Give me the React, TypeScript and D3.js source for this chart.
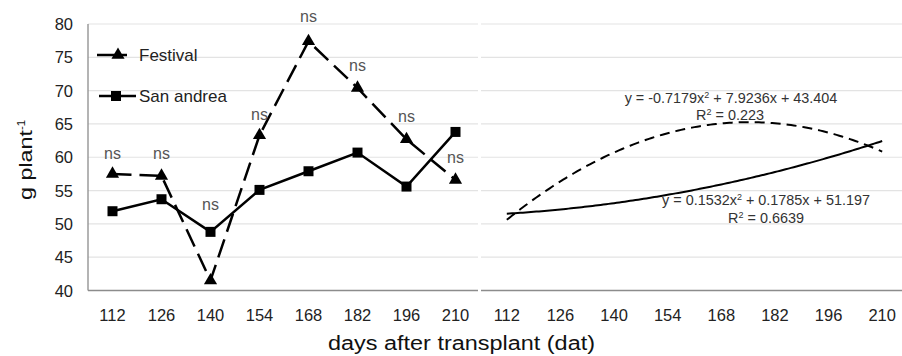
import React, { useEffect, useRef } from "react";
import * as d3 from "d3";

const days = ["112", "126", "140", "154", "168", "182", "196", "210"];
const festival = [57.5, 57.2, 41.5, 63.3, 77.4, 70.4, 62.7, 56.6];
const sanAndrea = [51.9, 53.7, 48.8, 55.1, 57.9, 60.7, 55.6, 63.8];
// where each "ns" label sits, in g plant-1
const nsLabelAt = [59.7, 59.7, 52.1, 65.6, 80.3, 72.9, 65.3, 59.2];
const yTicks = [40, 45, 50, 55, 60, 65, 70, 75, 80];
// polynomial trend coefficients [a, b, c] : a*x^2 + b*x + c
const festivalTrend = [-0.7179, 7.9236, 43.404];
const sanAndreaTrend = [0.1532, 0.1785, 51.197];
const festivalR2 = "0.223";
const sanAndreaR2 = "0.6639";

export default function App() {
  const ref = useRef<SVGSVGElement>(null);

  useEffect(() => {
    const svg = d3.select(ref.current);
    svg.selectAll("*").remove();

    const W = 902;
    const H = 356;
    const left = 88;
    const mid = 479;
    const right = 909;
    const top = 24;
    const bottom = 290.5;
    const font = "Liberation Sans, Arial, sans-serif";

    const y = d3.scaleLinear([40, 80], [bottom, top]);
    const xL = d3.scaleBand(days, [left, mid + 1]);
    const xR = d3.scaleBand(days, [mid + 1, right]);
    const xTrend = d3.scaleLinear([0.5, 8.5], [mid + 1, right]);
    const cx = (i: number) => xL(days[i])! + xL.bandwidth() / 2;

    svg.attr("width", W).attr("height", H);
    svg.append("rect").attr("width", W).attr("height", H).attr("fill", "#fff");

    // grid lines
    const grid = svg.append("g");
    yTicks.slice(1).forEach((t) => {
      grid.append("line").attr("x1", left).attr("x2", mid - 1)
        .attr("y1", y(t)).attr("y2", y(t))
        .attr("stroke", "#e3e3e3").attr("stroke-width", 1.2);
      grid.append("line").attr("x1", mid + 2).attr("x2", W)
        .attr("y1", y(t)).attr("y2", y(t))
        .attr("stroke", "#e3e3e3").attr("stroke-width", 1.2);
    });

    // axes lines
    svg.append("line").attr("x1", left).attr("x2", left)
      .attr("y1", top).attr("y2", bottom)
      .attr("stroke", "#8c8c8c").attr("stroke-width", 1.3);
    svg.append("line").attr("x1", left).attr("x2", mid - 1)
      .attr("y1", bottom).attr("y2", bottom)
      .attr("stroke", "#8c8c8c").attr("stroke-width", 1.5);
    svg.append("line").attr("x1", mid + 2).attr("x2", W)
      .attr("y1", bottom).attr("y2", bottom)
      .attr("stroke", "#8c8c8c").attr("stroke-width", 1.5);

    // y tick labels
    svg.append("g").selectAll("text").data(yTicks).enter().append("text")
      .attr("x", 73).attr("y", (d) => y(d) + 6)
      .attr("text-anchor", "end").attr("font-family", font)
      .attr("font-size", 16.5).attr("fill", "#222")
      .text((d) => d);

    // x tick labels, both panels
    [xL, xR].forEach((sc) => {
      svg.append("g").selectAll("text").data(days).enter().append("text")
        .attr("x", (d) => sc(d)! + sc.bandwidth() / 2)
        .attr("y", 320.5)
        .attr("text-anchor", "middle").attr("font-family", font)
        .attr("font-size", 16.5).attr("fill", "#222")
        .text((d) => d);
    });

    // axis titles
    svg.append("text").attr("x", 328).attr("y", 350)
      .attr("font-family", font)
      .attr("font-size", 19.5).attr("fill", "#111")
      .attr("textLength", 267).attr("lengthAdjust", "spacingAndGlyphs")
      .text("days after transplant (dat)");
    const yt = svg.append("text")
      .attr("transform", "translate(32,200) rotate(-90)")
      .attr("font-family", font)
      .attr("font-size", 17.5).attr("fill", "#111");
    yt.append("tspan")
      .attr("textLength", 70).attr("lengthAdjust", "spacingAndGlyphs")
      .text("g plant");
    yt.append("tspan").attr("dy", -7).attr("font-size", 11.5).text("-1");

    // series lines
    const line = d3.line<number>().x((d, i) => cx(i)).y((d) => y(d));
    svg.append("path").attr("d", line(sanAndrea)!)
      .attr("fill", "none").attr("stroke", "#000").attr("stroke-width", 2.5);
    svg.append("path").attr("d", line(festival)!)
      .attr("fill", "none").attr("stroke", "#000").attr("stroke-width", 2.5)
      .attr("stroke-dasharray", "19,8");

    const tri = d3.symbol(d3.symbolTriangle, 75);
    const sq = d3.symbol(d3.symbolSquare, 100);
    svg.append("g").selectAll("path").data(sanAndrea).enter().append("path")
      .attr("d", sq()).attr("fill", "#000")
      .attr("transform", (d, i) => `translate(${cx(i)},${y(d)})`);
    svg.append("g").selectAll("path").data(festival).enter().append("path")
      .attr("d", tri()).attr("fill", "#000")
      .attr("transform", (d, i) => `translate(${cx(i)},${y(d)})`);

    // ns labels
    svg.append("g").selectAll("text").data(nsLabelAt).enter().append("text")
      .attr("x", (d, i) => cx(i)).attr("y", (d) => y(d))
      .attr("text-anchor", "middle").attr("font-family", font)
      .attr("font-size", 16).attr("fill", "#555")
      .text("ns");

    // legend
    const lg = svg.append("g");
    lg.append("line").attr("x1", 97).attr("x2", 127).attr("y1", 55).attr("y2", 55)
      .attr("stroke", "#000").attr("stroke-width", 2.5);
    lg.append("path").attr("d", tri()).attr("transform", "translate(118,55)");
    lg.append("text").attr("x", 139).attr("y", 61).attr("font-family", font)
      .attr("font-size", 17).attr("fill", "#222").text("Festival");
    lg.append("line").attr("x1", 99).attr("x2", 136).attr("y1", 96).attr("y2", 96)
      .attr("stroke", "#000").attr("stroke-width", 2.5);
    lg.append("path").attr("d", sq()).attr("transform", "translate(116,96)");
    lg.append("text").attr("x", 139).attr("y", 102).attr("font-family", font)
      .attr("font-size", 17).attr("fill", "#222").text("San andrea");

    // trend lines (right panel)
    const steps = d3.range(1, 8.001, 0.05);
    const poly = (c: number[]) => (x: number) => c[0] * x * x + c[1] * x + c[2];
    const trendLine = (c: number[]) =>
      d3.line<number>().x((x) => xTrend(x)).y((x) => y(poly(c)(x)))(steps)!;
    svg.append("path").attr("d", trendLine(festivalTrend))
      .attr("fill", "none").attr("stroke", "#000").attr("stroke-width", 2)
      .attr("stroke-dasharray", "10,6");
    svg.append("path").attr("d", trendLine(sanAndreaTrend))
      .attr("fill", "none").attr("stroke", "#000").attr("stroke-width", 2);

    // equations
    const eq = (x: number, yy: number, parts: [string, boolean][]) => {
      const t = svg.append("text").attr("x", x).attr("y", yy)
        .attr("text-anchor", "middle").attr("font-family", font)
        .attr("font-size", 14.4).attr("fill", "#333");
      let prevSup = false;
      parts.forEach(([s, sup]) => {
        if (sup) t.append("tspan").attr("dy", -5).attr("font-size", 9).text(s);
        else t.append("tspan").attr("dy", prevSup ? 5 : 0).text(s);
        prevSup = sup;
      });
    };
    const fmt = (c: number[]): [string, boolean][] => [
      [`y = ${c[0]}x`, false], ["2", true],
      [` + ${c[1]}x + ${c[2]}`, false],
    ];
    eq(731, 103, fmt(festivalTrend));
    eq(730, 120, [["R", false], ["2", true], [` = ${festivalR2}`, false]]);
    eq(766, 205, fmt(sanAndreaTrend));
    eq(766, 223, [["R", false], ["2", true], [` = ${sanAndreaR2}`, false]]);
  }, []);

  return (
    <div style={{ position: "fixed", left: 0, top: 0 }}>
      <svg ref={ref} style={{ display: "block" }} />
    </div>
  );
}
